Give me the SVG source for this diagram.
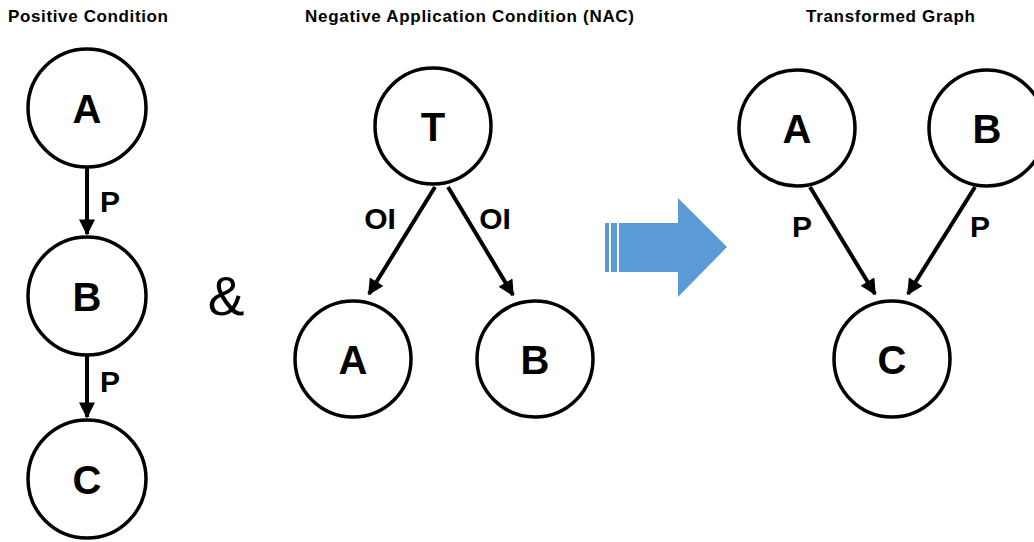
<svg xmlns="http://www.w3.org/2000/svg" width="1034" height="542" viewBox="0 0 1034 542">
<style>
.n{fill:#fff;stroke:#000;stroke-width:3.5}
.nl{font-family:"Liberation Sans",Arial,sans-serif;font-weight:bold;font-size:40px;text-anchor:middle;fill:#000}
.t{font-family:"Liberation Sans",Arial,sans-serif;font-weight:bold;font-size:17px;fill:#000}
.e{stroke:#000;stroke-width:4;fill:none;marker-end:url(#ah)}
.el{font-family:"Liberation Sans",Arial,sans-serif;font-weight:bold;font-size:30px;text-anchor:middle;fill:#000}
</style>
<defs>
<marker id="ah" viewBox="0 0 10 10" refX="9" refY="5" markerWidth="4.5" markerHeight="4" orient="auto" markerUnits="strokeWidth">
<path d="M0,0 L10,5 L0,10 z" fill="#000"/>
</marker>
</defs>
<rect width="1034" height="542" fill="#fff"/>
<text class="t" x="8" y="22" textLength="160">Positive Condition</text>
<text class="t" x="305" y="22" textLength="329">Negative Application Condition (NAC)</text>
<text class="t" x="806" y="22" textLength="169">Transformed Graph</text>
<g id="connectors">
<line class="e" x1="87" y1="167" x2="87" y2="234"/>
<line class="e" x1="87" y1="355" x2="87" y2="417"/>
<line class="e" x1="435" y1="187" x2="369" y2="294"/>
<line class="e" x1="448" y1="187" x2="513" y2="295"/>
<line class="e" x1="810" y1="187" x2="875" y2="294"/>
<line class="e" x1="975" y1="187" x2="908" y2="294"/>
<text class="el" x="110" y="212">P</text>
<text class="el" x="110" y="392">P</text>
<text class="el" x="380" y="229">OI</text>
<text class="el" x="495" y="229">OI</text>
<text class="el" x="802" y="237">P</text>
<text class="el" x="980" y="237">P</text>
</g>
<g id="pA"><circle class="n" cx="87" cy="108" r="59"/><text class="nl" x="87" y="123">A</text></g>
<g id="pB"><circle class="n" cx="87" cy="296" r="59"/><text class="nl" x="87" y="311">B</text></g>
<g id="pC"><circle class="n" cx="87" cy="479" r="59"/><text class="nl" x="87" y="494">C</text></g>
<g id="amp"><text x="226" y="315" font-family="Liberation Sans,Arial,sans-serif" font-size="55" text-anchor="middle">&amp;</text></g>
<g id="nT"><circle class="n" cx="433" cy="126" r="58"/><text class="nl" x="433" y="141">T</text></g>
<g id="nA"><circle class="n" cx="353" cy="359" r="58"/><text class="nl" x="353" y="374">A</text></g>
<g id="nB"><circle class="n" cx="535" cy="359" r="58"/><text class="nl" x="535" y="374">B</text></g>
<g id="bigArrow" fill="#5B9BD5">
<rect x="605" y="223" width="4" height="49"/>
<rect x="611" y="223" width="6" height="49"/>
<path d="M619,223 H678 V198 L727,247 L678,297 V272 H619 z"/>
</g>
<g id="tA"><circle class="n" cx="797" cy="128" r="58"/><text class="nl" x="797" y="143">A</text></g>
<g id="tB"><circle class="n" cx="987" cy="128" r="58"/><text class="nl" x="987" y="143">B</text></g>
<g id="tC"><circle class="n" cx="892" cy="359" r="58"/><text class="nl" x="892" y="374">C</text></g>
</svg>
